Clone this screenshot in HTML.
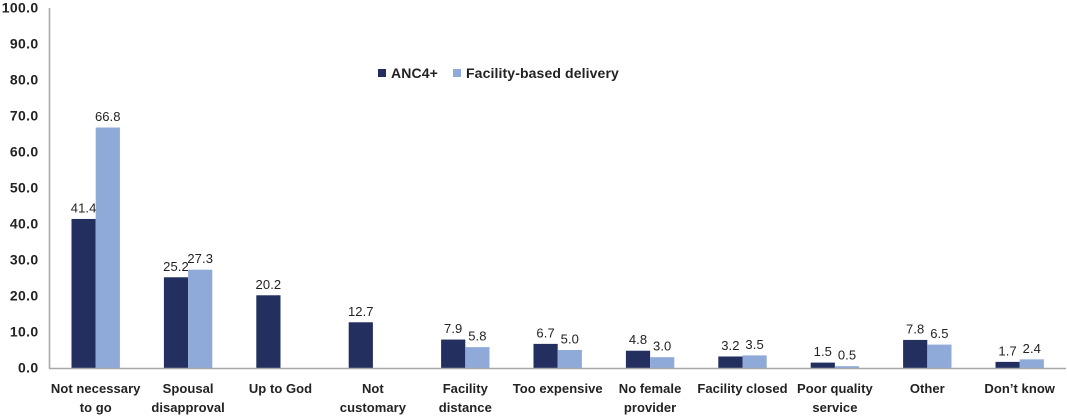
<!DOCTYPE html>
<html>
<head>
<meta charset="utf-8">
<title>Reasons chart</title>
<style>
html,body{margin:0;padding:0;background:#fff;}
svg{display:block;}
text{font-family:"Liberation Sans",sans-serif;fill:#222;}
.tick{font-size:14px;font-weight:bold;letter-spacing:.35px;}
.cat{font-size:13px;font-weight:bold;letter-spacing:.05px;}
.val{font-size:13px;letter-spacing:.1px;}
.leg{font-size:14px;font-weight:bold;letter-spacing:.12px;}
</style>
</head>
<body>
<svg id="chart" width="1067" height="417" viewBox="0 0 1067 417" xmlns="http://www.w3.org/2000/svg">
  <g id="bars"></g>
  <g id="labels"></g>
  <g id="yticks"></g>
  <g id="cats"></g>
  <line x1="49.5" y1="8" x2="49.5" y2="368.5" stroke="#a8a8a8" stroke-width="1.6"/>
  <line x1="49" y1="368.5" x2="1066" y2="368.5" stroke="#a8a8a8" stroke-width="1.6"/>
  <g>
    <rect x="378" y="69" width="8" height="8" fill="#232f5f"/>
    <text class="leg" x="391" y="78">ANC4+</text>
    <rect x="453" y="69" width="8" height="8" fill="#8faad9"/>
    <text class="leg" x="466" y="78">Facility-based delivery</text>
  </g>
</svg>
<script>
const categories = [["Not necessary","to go"],["Spousal","disapproval"],["Up to God"],["Not","customary"],["Facility","distance"],["Too expensive"],["No female","provider"],["Facility closed"],["Poor quality","service"],["Other"],["Don\u2019t know"]];
const anc4 = [41.4,25.2,20.2,12.7,7.9,6.7,4.8,3.2,1.5,7.8,1.7];
const facility = [66.8,27.3,null,null,5.8,5.0,3.0,3.5,0.5,6.5,2.4];
const yTicks = [0,10,20,30,40,50,60,70,80,90,100];

const NS = "http://www.w3.org/2000/svg";
const plotLeft = 49.5, plotRight = 1065.9, plotBottom = 368, plotTop = 8, barW = 24.2;
const band = (plotRight - plotLeft) / categories.length;
const xCenter = i => plotLeft + band * (i + 0.5);
const yScale = v => plotBottom - (v / 100) * (plotBottom - plotTop);

function makeText(parent, x, y, cls, anchor, str) {
  const t = document.createElementNS(NS, "text");
  t.setAttribute("x", x);
  t.setAttribute("y", y);
  t.setAttribute("class", cls);
  t.setAttribute("text-anchor", anchor);
  t.textContent = str;
  parent.appendChild(t);
  return t;
}

const barsG = document.getElementById("bars");
const labelsG = document.getElementById("labels");
const ticksG = document.getElementById("yticks");
const catsG = document.getElementById("cats");

function drawSeries(values, color, offset, seriesName) {
  values.forEach((v, i) => {
    if (v === null) return;
    const x = xCenter(i) + offset;
    const r = document.createElementNS(NS, "rect");
    r.setAttribute("x", x);
    r.setAttribute("y", yScale(v));
    r.setAttribute("width", barW);
    r.setAttribute("height", plotBottom - yScale(v));
    r.setAttribute("fill", color);
    
    
    barsG.appendChild(r);
    const t = makeText(labelsG, x + barW / 2, yScale(v) - 6.5, "val", "middle", v.toFixed(1));
    
    
  });
}
drawSeries(anc4, "#232f5f", -barW, "anc4");
drawSeries(facility, "#8faad9", 0, "facility");

yTicks.forEach(v => {
  const t = makeText(ticksG, 38.5, yScale(v) + 4.5, "tick", "end", v.toFixed(1));
  
  
});

categories.forEach((lines, i) => {
  lines.forEach((line, j) => {
    const t = makeText(catsG, xCenter(i), 393 + j * 19, "cat", "middle", line);
    
    
  });
});
</script>
</body>
</html>
